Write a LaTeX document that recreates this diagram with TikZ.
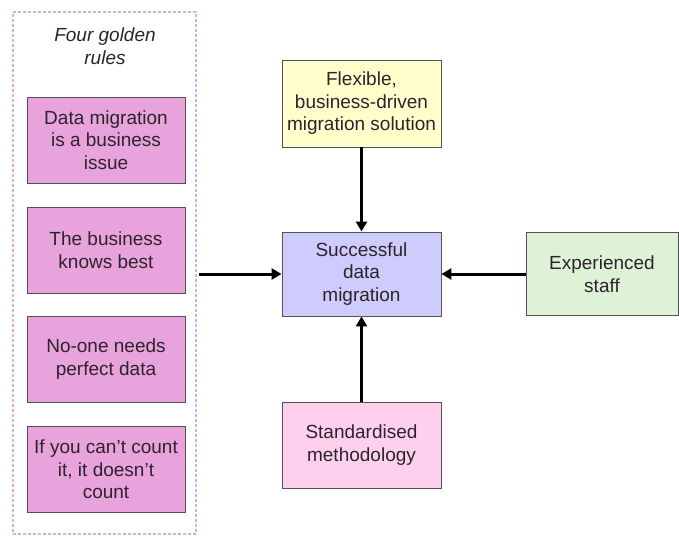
\documentclass[tikz,border=0pt]{standalone}
\usepackage{fontspec}
\setmainfont{Liberation Sans}
\usetikzlibrary{arrows.meta}
\definecolor{rulefill}{RGB}{232,162,220}
\definecolor{goalfill}{RGB}{206,204,252}
\definecolor{solfill}{RGB}{255,255,204}
\definecolor{staffill}{RGB}{222,242,216}
\definecolor{methfill}{RGB}{255,208,238}
\definecolor{boxline}{RGB}{85,80,85}
\definecolor{frameline}{RGB}{214,176,226}
\definecolor{inktext}{RGB}{45,35,45}
\tikzset{
  card/.style={draw=boxline, line width=0.9pt, align=center, inner sep=0pt,
    text=inktext, font=\fontsize{19}{22.5}\selectfont},
  rulecard/.style={card, fill=rulefill, minimum width=158pt, minimum height=86pt},
  feed/.style={line width=3pt, -{Triangle[length=10pt,width=11pt]}}
}
\begin{document}
\begin{tikzpicture}[x=1pt,y=-1pt]
\useasboundingbox (0,0) rectangle (679,537);
% frame holding the four rules
\node[draw=frameline, densely dashed, line width=1.3pt, minimum width=183pt,
  minimum height=522pt, inner sep=0pt] (rules) at (104.5,273) {};
\node[font=\fontsize{19}{22.5}\selectfont\itshape, align=center, text=inktext]
  (title) at (105,46) {Four golden\\rules};
\node[rulecard] (r1) at (106,140) {Data migration\\is a business\\issue};
\node[rulecard] (r2) at (106,250) {The business\\knows best};
\node[rulecard] (r3) at (106,359) {No-one needs\\perfect data};
\node[rulecard] (r4) at (106,469.5) {If you can't count\\it, it doesn't\\count};
% central goal and its contributors
\node[card, fill=goalfill, minimum width=159pt, minimum height=84pt] (goal)
  at (361.5,274) {Successful\\data\\migration};
\node[card, fill=solfill, minimum width=159pt, minimum height=87pt] (sol)
  at (361.5,103.5) {Flexible,\\business-driven\\migration solution};
\node[card, fill=methfill, minimum width=159pt, minimum height=86pt] (meth)
  at (361.5,445) {Standardised\\methodology};
\node[card, fill=staffill, minimum width=152pt, minimum height=83pt] (staff)
  at (602,274) {Experienced\\staff};
% arrows into the goal
\draw[feed] ([xshift=2pt]rules.east |- goal.west) -- (goal.west);
\draw[feed] (sol.south) -- (goal.north);
\draw[feed] (meth.north) -- (goal.south);
\draw[feed] (staff.west) -- (goal.east);
\end{tikzpicture}
\end{document}
